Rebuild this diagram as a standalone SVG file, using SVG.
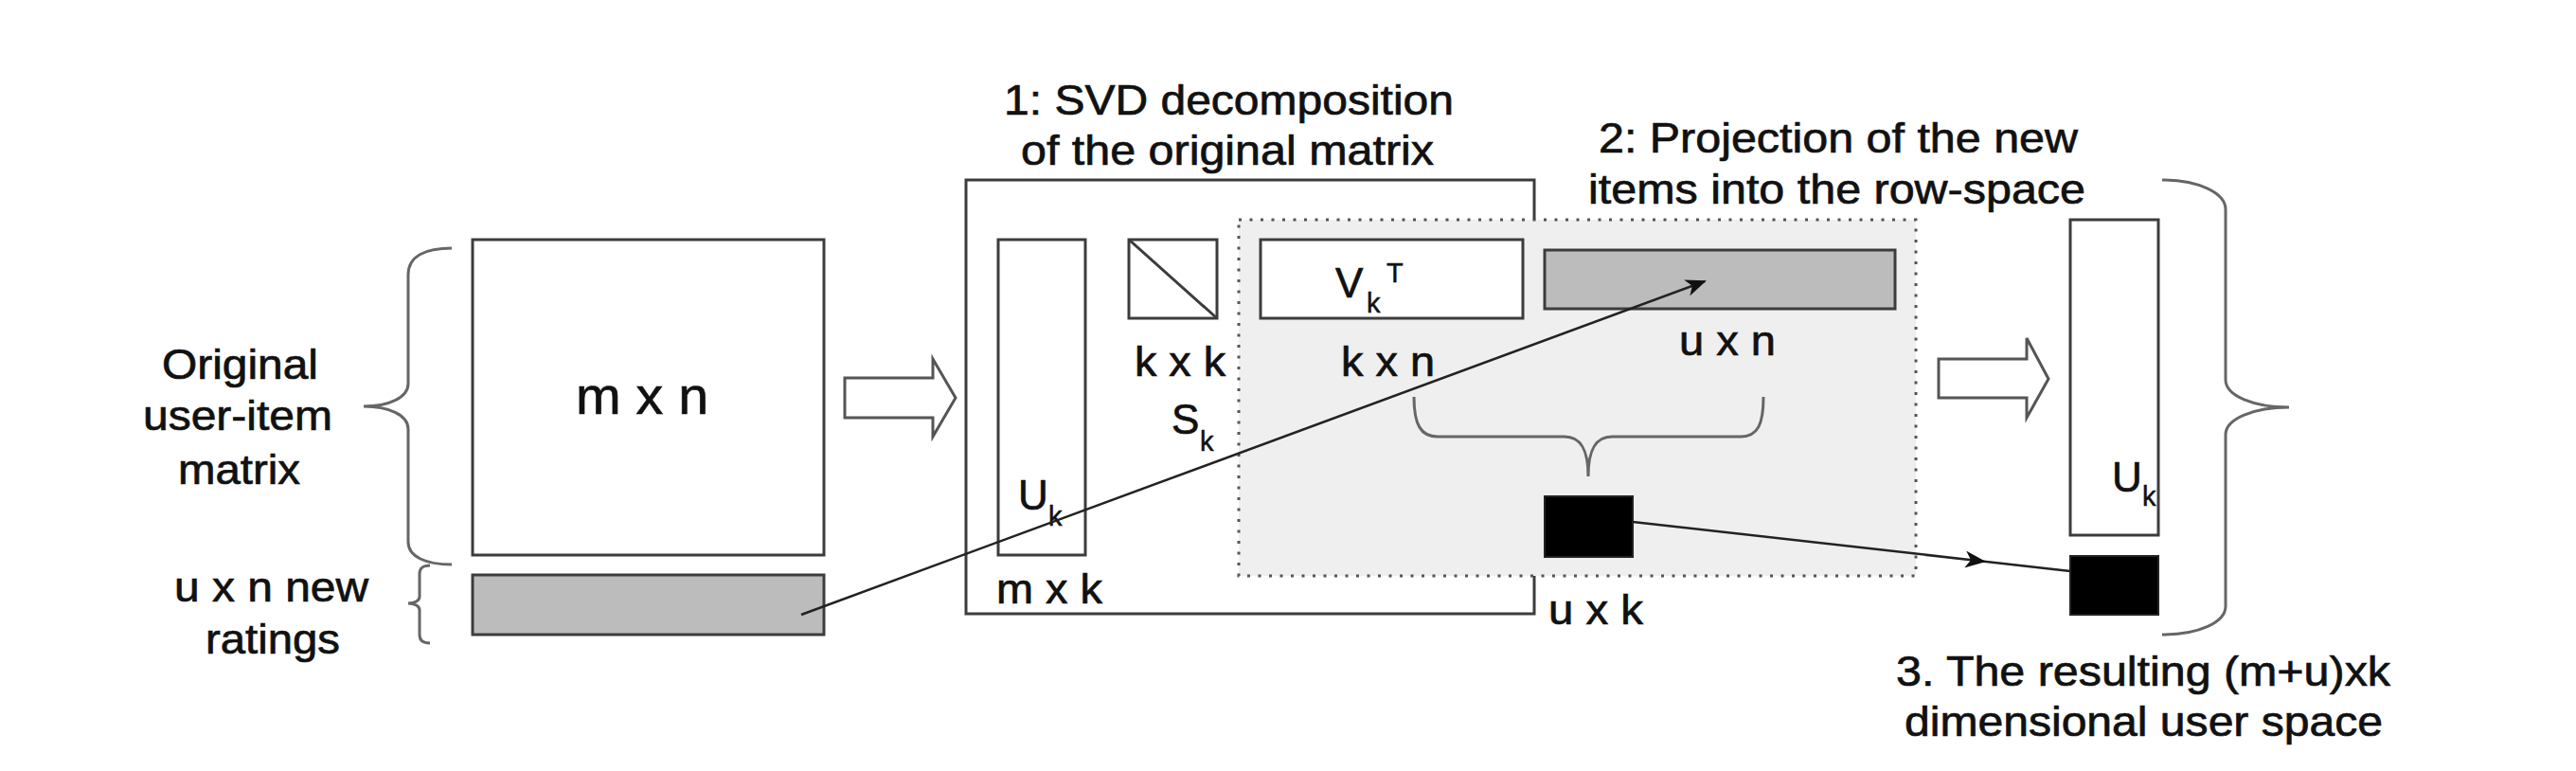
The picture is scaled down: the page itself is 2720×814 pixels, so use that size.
<svg xmlns="http://www.w3.org/2000/svg" width="2720" height="814" viewBox="0 0 2720 814">
<defs>
<style>
.t{font-family:"Liberation Sans",Arial,Helvetica,sans-serif;font-size:44px;fill:#111;stroke:#111;stroke-width:0.7}
.s{font-family:"Liberation Sans",Arial,Helvetica,sans-serif;font-size:29px;fill:#111;stroke:#111;stroke-width:0.5}
.big{font-size:55px}
.box{fill:#fff;stroke:#3c3c3c;stroke-width:3}
.gray{fill:#bcbcbc;stroke:#3c3c3c;stroke-width:3}
.blk{fill:#000;stroke:#222;stroke-width:2}
.brace{fill:none;stroke:#666;stroke-width:3}
.hollow{fill:#fff;stroke:#555;stroke-width:3;stroke-linejoin:miter}
.ln{fill:none;stroke:#222;stroke-width:2.5}
</style>
<marker id="ah" viewBox="0 0 22 18" refX="20" refY="9" markerWidth="22" markerHeight="18" markerUnits="userSpaceOnUse" orient="auto">
<path d="M0,0 L22,9 L0,18 L6,9 Z" fill="#111"/>
</marker>
</defs>
<rect width="2720" height="814" fill="#fff"/>

<g id="original-matrix">
<rect class="box" x="499" y="253" width="371" height="333"/>
<text class="t big" x="608" y="437" textLength="140" lengthAdjust="spacingAndGlyphs">m x n</text>
</g>
<g id="new-ratings">
<rect class="gray" x="499" y="607" width="371" height="63"/>
</g>
<g id="label-original">
<path class="brace" d="M477,262 C450,262 431,270 431,290 L431,405 C431,420 410,429 384,429 C410,429 431,438 431,453 L431,572 C431,588 450,596 477,596"/>
<text class="t" x="171" y="400" textLength="165" lengthAdjust="spacingAndGlyphs">Original</text>
<text class="t" x="151" y="454" textLength="200" lengthAdjust="spacingAndGlyphs">user-item</text>
<text class="t" x="188" y="511" textLength="129" lengthAdjust="spacingAndGlyphs">matrix</text>
</g>
<g id="label-new-ratings">
<path class="brace" d="M454,597 C446,597 443,600 443,606 L443,630 C443,634 438,637 431,637 C438,637 443,640 443,644 L443,670 C443,676 446,679 454,679"/>
<text class="t" x="184" y="635" textLength="205" lengthAdjust="spacingAndGlyphs">u x n new</text>
<text class="t" x="217" y="690" textLength="142" lengthAdjust="spacingAndGlyphs">ratings</text>
</g>

<g id="arrow-1">
<polygon class="hollow" points="892,399 985,399 985,379 1009,420 985,461 985,441 892,441"/>
</g>

<g id="svd-box">
<rect fill="#fff" stroke="#3c3c3c" stroke-width="3" x="1020" y="190" width="600" height="458"/>
<text class="t" x="1060" y="121" textLength="475" lengthAdjust="spacingAndGlyphs">1: SVD decomposition</text>
<text class="t" x="1078" y="174" textLength="436" lengthAdjust="spacingAndGlyphs">of the original matrix</text>
</g>
<g id="projection-box">
<rect fill="#efefef" stroke="#555" stroke-width="3" stroke-dasharray="3 8.5" x="1308" y="232" width="715" height="376"/>
<text class="t" x="1688" y="161" textLength="506" lengthAdjust="spacingAndGlyphs">2: Projection of the new</text>
<text class="t" x="1677" y="215" textLength="525" lengthAdjust="spacingAndGlyphs">items into the row-space</text>
</g>

<g id="uk">
<rect class="box" x="1054" y="253" width="92" height="333"/>
<text class="t" x="1075" y="538">U</text>
<text class="s" x="1107" y="555">k</text>
<text class="t" x="1052" y="637" textLength="112" lengthAdjust="spacingAndGlyphs">m x k</text>
</g>
<g id="sk">
<rect class="box" x="1192" y="253" width="93" height="83"/>
<line x1="1192" y1="253" x2="1285" y2="336" stroke="#3c3c3c" stroke-width="3"/>
<text class="t" x="1198" y="397" textLength="96" lengthAdjust="spacingAndGlyphs">k x k</text>
<text class="t" x="1237" y="458">S</text>
<text class="s" x="1267" y="476">k</text>
</g>
<g id="vkt">
<rect class="box" x="1331" y="253" width="277" height="83"/>
<text class="t" x="1410" y="314">V</text>
<text class="s" x="1443" y="330">k</text>
<text class="s" x="1464" y="298">T</text>
<text class="t" x="1416" y="397" textLength="99" lengthAdjust="spacingAndGlyphs">k x n</text>
</g>
<g id="new-items">
<rect class="gray" x="1631" y="264" width="370" height="62"/>
<text class="t" x="1773" y="375" textLength="102" lengthAdjust="spacingAndGlyphs">u x n</text>
</g>
<g id="product-brace">
<path class="brace" d="M1493,419 C1493,448 1500,461 1518,461 L1652,461 C1670,461 1677,476 1677,503 C1677,476 1684,461 1702,461 L1838,461 C1856,461 1862,448 1862,419"/>
</g>
<g id="new-users">
<rect class="blk" x="1631" y="524" width="93" height="64"/>
<text class="t" x="1635" y="659" textLength="100" lengthAdjust="spacingAndGlyphs">u x k</text>
</g>

<g id="arrow-2">
<polygon class="hollow" points="2047,379 2140,379 2140,357 2163,400 2140,441 2140,420 2047,420"/>
</g>

<g id="result-uk">
<rect class="box" x="2186" y="232" width="93" height="333"/>
<text class="t" x="2230" y="519">U</text>
<text class="s" x="2262" y="534">k</text>
</g>
<g id="result-new">
<rect class="blk" x="2186" y="587" width="93" height="62"/>
</g>
<g id="result-label">
<path class="brace" d="M2283,190 C2322,190 2350,204 2350,221 L2350,401 C2350,418 2380,430 2417,430 C2380,430 2350,442 2350,459 L2350,640 C2350,657 2322,670 2283,670"/>
<text class="t" x="2002" y="724" textLength="522" lengthAdjust="spacingAndGlyphs">3. The resulting (m+u)xk</text>
<text class="t" x="2011" y="777" textLength="505" lengthAdjust="spacingAndGlyphs">dimensional user space</text>
</g>

<g id="connectors">
<line class="ln" x1="846" y1="649" x2="1800" y2="297" marker-end="url(#ah)"/>
<path class="ln" d="M1724,551 L2095,592.7 L2186,603" marker-mid="url(#ah)"/>
</g>
</svg>
